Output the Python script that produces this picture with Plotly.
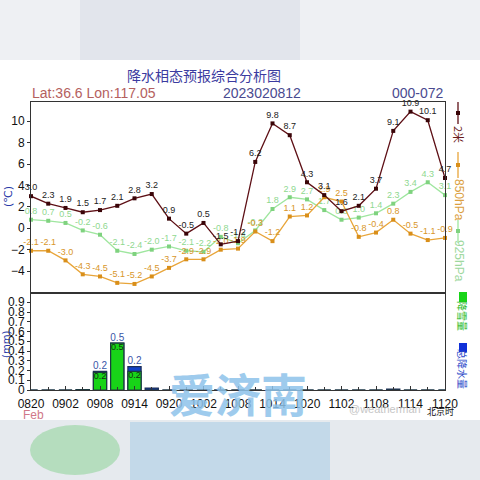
import plotly.graph_objects as go

# ---------------- data ----------------
hours = [0, 3, 6, 9, 12, 15, 18, 21, 24, 27, 30, 33, 36, 39, 42, 45, 48, 51, 54, 57, 60, 63, 66, 69, 72]
tick_hours = [0, 6, 12, 18, 24, 30, 36, 42, 48, 54, 60, 66, 72]
tick_labels = ["0820", "0902", "0908", "0914", "0920", "1002", "1008", "1014",
               "1020", "1102", "1108", "1114", "1120"]

t2m = [3.0, 2.3, 1.9, 1.5, 1.7, 2.1, 2.8, 3.2, 0.9, -0.5, 0.5, -1.5, -1.2,
       6.2, 9.8, 8.7, 4.3, 3.1, 1.6, 2.1, 3.7, 9.1, 10.9, 10.1, 4.7]
t850 = [-2.1, -2.1, -3.0, -4.3, -4.5, -5.1, -5.2, -4.5, -3.7, -2.9, -2.9, -2.0, -1.9,
        -0.3, -1.2, 1.1, 1.2, 2.9, 2.5, -0.8, -0.4, 0.8, -0.5, -1.1, -0.9]
t925 = [0.8, 0.7, 0.5, -0.2, -0.6, -2.1, -2.4, -2.0, -1.7, -2.1, -2.2, -0.8, -1.4,
        -0.2, 1.8, 2.9, 2.7, 1.7, 0.8, 1.0, 1.4, 2.3, 3.4, 4.3, 3.1]

total_precip = [0, 0, 0, 0.005, 0.19, 0.48, 0.24, 0.02, 0, 0, 0, 0, 0,
                0, 0, 0, 0, 0, 0, 0, 0, 0.01, 0, 0, 0]
snow = [0, 0, 0, 0.005, 0.18, 0.48, 0.19, 0, 0, 0, 0, 0, 0,
        0, 0, 0, 0, 0, 0, 0, 0, 0, 0, 0, 0]

upper_ticks = [-4, -2, 0, 2, 4, 6, 8, 10]
lower_ticks = [0, 0.1, 0.2, 0.3, 0.4, 0.5, 0.6, 0.7, 0.8, 0.9]
lower_tick_labels = ["0", "0.1", "0.2", "0.3", "0.4", "0.5", "0.6", "0.7", "0.8", "0.9"]

# ---------------- helpers ----------------
W = H = 480
def px(x):
    return x / W
def py(y):
    return 1 - y / H

def fmt(v):
    return f"{v:.1f}"

X0, X1 = px(31), px(445)
UP = [py(292.5), py(102)]
LO = [py(390), py(292.5)]

AX_FONT = dict(family="Liberation Sans, Arial, sans-serif", size=12, color="#111")
LBL = "Liberation Sans, Arial, sans-serif"

C2M, C2M_M = "#5e1016", "#3a0508"
C850, C850_M = "#e8a53a", "#d98f1a"
C925, C925_M = "#9fe69f", "#7fd27f"

fig = go.Figure()

fig.add_trace(go.Scatter(
    x=hours, y=t925, mode="lines+markers+text", xaxis="x", yaxis="y",
    line=dict(color=C925, width=1.3), marker=dict(symbol="square", size=4, color=C925_M),
    text=[fmt(v) for v in t925], textposition="top center",
    textfont=dict(family=LBL, size=9, color="#8fd88f"), cliponaxis=False, showlegend=False))
fig.add_trace(go.Scatter(
    x=hours, y=t850, mode="lines+markers+text", xaxis="x", yaxis="y",
    line=dict(color=C850, width=1.3), marker=dict(symbol="square", size=4, color=C850_M),
    text=[fmt(v) for v in t850], textposition="top center",
    textfont=dict(family=LBL, size=9, color="#d8962a"), cliponaxis=False, showlegend=False))
fig.add_trace(go.Scatter(
    x=hours, y=t2m, mode="lines+markers+text", xaxis="x", yaxis="y",
    line=dict(color=C2M, width=1.3), marker=dict(symbol="square", size=4, color=C2M_M),
    text=[fmt(v) for v in t2m], textposition="top center",
    textfont=dict(family=LBL, size=9, color="#222"), cliponaxis=False, showlegend=False))

# precipitation bars
fig.add_trace(go.Bar(
    x=hours, y=total_precip, xaxis="x2", yaxis="y2", width=2.3,
    marker=dict(color="#1040c8", line=dict(color="#1c2e55", width=1.2)),
    showlegend=False, hoverinfo="skip"))
fig.add_trace(go.Bar(
    x=hours, y=snow, xaxis="x2", yaxis="y2", width=2.3,
    marker=dict(color="#18d418", line=dict(color="#1c3a40", width=1.2)),
    showlegend=False, hoverinfo="skip"))
# bar value labels
fig.add_trace(go.Scatter(
    x=hours, y=total_precip, mode="text", xaxis="x2", yaxis="y2",
    text=[fmt(v) if v >= 0.1 else "" for v in total_precip], textposition="top center",
    textfont=dict(family=LBL, size=10, color="#3a56a8"), cliponaxis=False, showlegend=False))
fig.add_trace(go.Scatter(
    x=hours, y=snow, mode="text", xaxis="x2", yaxis="y2",
    text=[fmt(v) if v >= 0.1 else "" for v in snow], textposition="bottom center",
    textfont=dict(family=LBL, size=9, color="#123012"), cliponaxis=False, showlegend=False))

axis_common = dict(showline=True, linecolor="#333", linewidth=1, mirror=True,
                   showgrid=False, zeroline=False, automargin=False)

fig.update_layout(
    width=W, height=H, margin=dict(l=0, r=0, t=0, b=0, pad=0), autosize=False,
    paper_bgcolor="white", plot_bgcolor="white", barmode="overlay",
    xaxis=dict(domain=[X0, X1], anchor="y", range=[0, 72], showticklabels=False,
               ticks="", **axis_common),
    yaxis=dict(domain=UP, anchor="x", range=[-6, 11.8], tickvals=upper_ticks,
               ticks="outside", ticklen=3, tickcolor="#333", tickfont=AX_FONT,
               **axis_common),
    xaxis2=dict(domain=[X0, X1], anchor="y2", range=[0, 72], tickvals=tick_hours,
                ticktext=tick_labels, ticks="inside", ticklen=4, tickcolor="#333",
                tickfont=AX_FONT, ticklabelstandoff=3,
                minor=dict(tickvals=hours, ticks="inside", ticklen=3, tickcolor="#333"),
                **axis_common),
    yaxis2=dict(domain=LO, anchor="x2", range=[0, 1], tickvals=lower_ticks,
                ticktext=lower_tick_labels, ticks="outside", ticklen=3, tickcolor="#333",
                tickfont=AX_FONT, **axis_common),
)

shapes = []
# blurred photo bands (top and bottom)
shapes.append(dict(type="rect", xref="paper", yref="paper", x0=0, x1=1, y0=py(60), y1=1,
                   fillcolor="#eef0f3", line=dict(width=0), layer="below"))
shapes.append(dict(type="rect", xref="paper", yref="paper", x0=px(80), x1=px(300), y0=py(60), y1=1,
                   fillcolor="#e0e3eb", line=dict(width=0), layer="below", opacity=0.9))
shapes.append(dict(type="rect", xref="paper", yref="paper", x0=0, x1=1, y0=0, y1=py(420),
                   fillcolor="#e6eaee", line=dict(width=0), layer="below"))
shapes.append(dict(type="circle", xref="paper", yref="paper", x0=px(30), x1=px(120),
                   y0=py(475), y1=py(425), fillcolor="#a9d9b1", line=dict(width=0),
                   layer="below", opacity=0.8))
shapes.append(dict(type="rect", xref="paper", yref="paper", x0=px(130), x1=px(330),
                   y0=0, y1=py(422), fillcolor="#bcd6e8", line=dict(width=0),
                   layer="below", opacity=0.85))

# right-side legend symbols
LX = px(458)
def vline(y0, y1, color):
    shapes.append(dict(type="line", xref="paper", yref="paper", x0=LX, x1=LX,
                       y0=py(y0), y1=py(y1), line=dict(color=color, width=1.3)))
def msq(y, color, s=2):
    shapes.append(dict(type="rect", xref="paper", yref="paper", x0=px(458 - s), x1=px(458 + s),
                       y0=py(y + s), y1=py(y - s), fillcolor=color, line=dict(width=0)))
vline(102, 124, C2M); msq(113, C2M_M)
vline(152, 178, C850); msq(165, C850_M)
vline(220, 243, C925); msq(231, C925_M)
shapes.append(dict(type="rect", xref="paper", yref="paper", x0=px(459), x1=px(467),
                   y0=py(302), y1=py(292), fillcolor="#18d418", line=dict(width=0)))
shapes.append(dict(type="rect", xref="paper", yref="paper", x0=px(459), x1=px(467),
                   y0=py(352), y1=py(343), fillcolor="#1030d8", line=dict(width=0)))

annotations = [
    dict(text="降水相态预报综合分析图", x=px(204), y=py(75),
         font=dict(family="Noto Sans CJK SC", size=14, color="#3b3ba0")),
    dict(text="Lat:36.6 Lon:117.05", x=px(30), y=py(93), xanchor="left",
         font=dict(family=LBL, size=14, color="#b4605e")),
    dict(text="2023020812", x=px(262), y=py(93),
         font=dict(family=LBL, size=14, color="#4a4a90")),
    dict(text="000-072", x=px(446), y=py(93), xanchor="right",
         font=dict(family=LBL, size=14, color="#4a4a90")),
    dict(text="(℃)", x=px(8), y=py(197), textangle=-90,
         font=dict(family="DejaVu Sans", size=11, color="#2a3aa8")),
    dict(text="(mm)", x=px(6), y=py(345), textangle=-90,
         font=dict(family="DejaVu Sans", size=10, color="#2a3aa8")),
    dict(text="2米", x=px(459), y=py(134), textangle=90,
         font=dict(family="Noto Sans CJK SC", size=11, color="#6a1a1a")),
    dict(text="850hPa", x=px(459), y=py(200), textangle=90,
         font=dict(family=LBL, size=12, color="#dba040")),
    dict(text="925hPa", x=px(459), y=py(261), textangle=90,
         font=dict(family=LBL, size=12, color="#9ed89e")),
    dict(text="降雪量", x=px(463), y=py(316), textangle=90,
         font=dict(family="Noto Sans CJK SC", size=10, color="#22b822")),
    dict(text="总降水量", x=px(463), y=py(369), textangle=90,
         font=dict(family="Noto Sans CJK SC", size=10, color="#2a48c8")),
    dict(text="Feb", x=px(33), y=py(415),
         font=dict(family=LBL, size=12, color="#d07888")),
    dict(text="<b>爱济南</b>", x=px(238), y=py(392),
         font=dict(family="Noto Sans CJK SC", size=46, color="#8ec3ea"), opacity=0.85),
    dict(text="@weatherman", x=px(385), y=py(409),
         font=dict(family=LBL, size=11, color="#c6c6c6")),
    dict(text="北京时", x=px(440), y=py(411),
         font=dict(family="Noto Sans CJK SC", size=9, color="#111")),
]
for a in annotations:
    a.update(xref="paper", yref="paper", showarrow=False, yanchor="middle")
    a.setdefault("xanchor", "center")

fig.update_layout(shapes=shapes, annotations=annotations)
fig.write_html("out.html", config={"displayModeBar": False},
               post_script="document.body.style.margin='0px';document.body.style.overflow='hidden';")
